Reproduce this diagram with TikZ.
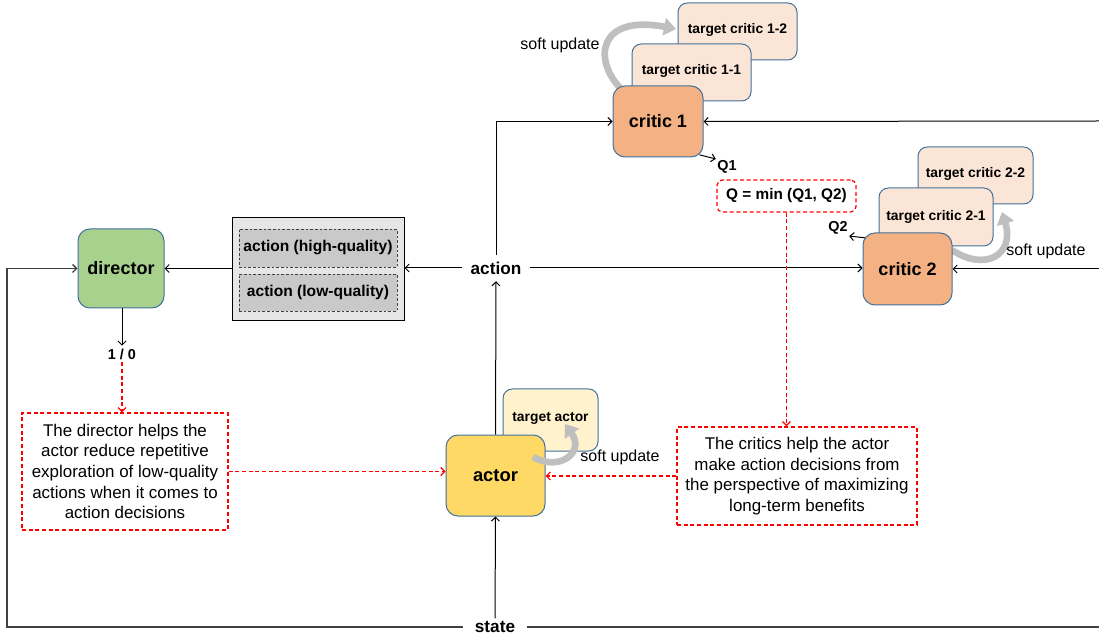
\documentclass[tikz,border=0pt]{standalone}
\usepackage{fontspec}
\setmainfont{Liberation Sans}
\usetikzlibrary{arrows.meta}
\definecolor{bord}{HTML}{41719C}
\definecolor{dirgreen}{HTML}{A9D18E}
\definecolor{actyellow}{HTML}{FFD966}
\definecolor{tactyellow}{HTML}{FFF2CC}
\definecolor{critorange}{HTML}{F4B183}
\definecolor{tcritpeach}{HTML}{FBE5D6}
\definecolor{softgray}{HTML}{BFBFBF}
\definecolor{boxgray}{HTML}{E7E6E6}
\definecolor{innergray}{HTML}{C9C9C9}
\definecolor{linegray}{HTML}{404040}
\begin{document}
\begin{tikzpicture}[x=0.75pt,y=-0.75pt,
  sz/.style 2 args={minimum width=#1*0.75pt, minimum height=#2*0.75pt, inner sep=0pt},
  mainbox/.style={draw=bord, line width=0.75pt, rounded corners=9pt, align=center, font=\fontsize{13.5}{16}\selectfont\bfseries},
  tgtbox/.style={draw=bord, line width=0.75pt, rounded corners=7pt, align=center, font=\fontsize{10.4}{12}\selectfont\bfseries},
  note/.style={draw=red, dash pattern=on 3pt off 2pt, line width=0.9pt, align=center, font=\fontsize{12.7}{15.5}\selectfont},
  lbl/.style={font=\fontsize{12.9}{15}\selectfont\bfseries},
  small/.style={font=\fontsize{10.8}{13}\selectfont\bfseries},
  soft/.style={font=\fontsize{12}{14}\selectfont},
  arr/.style={line width=0.75pt, -{Straight Barb[length=3pt,width=6pt]}},
  redarr/.style={draw=red, line width=0.9pt, dash pattern=on 3pt off 2pt, -{Straight Barb[length=3pt,width=6pt]}},
  softarr/.style={draw=softgray, line width=5pt, -{Triangle[length=9pt,width=13pt]}}
]
\useasboundingbox (0,0) rectangle (1099,634);

% director
\node[mainbox, fill=dirgreen, sz={86}{79}] (director) at (121,268.5) {director};

% action quality box
\node[draw=black, line width=0.75pt, fill=boxgray, sz={172}{103}] (qbox) at (318,269.5) {};
\node[draw=linegray, dash pattern=on 2pt off 1.5pt, line width=0.6pt, fill=innergray, sz={158}{38}, font=\fontsize{11.7}{14}\selectfont\bfseries] (high) at (318,248) {action (high-quality)};
\node[draw=linegray, dash pattern=on 2pt off 1.5pt, line width=0.6pt, fill=innergray, sz={158}{37}, font=\fontsize{11.7}{14}\selectfont\bfseries] (low) at (318,292.5) {action (low-quality)};

% labels
\node[lbl, inner xsep=6pt, inner ysep=5pt] (action) at (496,268) {action};
\node[lbl, inner xsep=9pt, inner ysep=2pt] (state) at (495,627) {state};
\node[small, inner sep=2pt] (onezero) at (122,354) {1 / 0};

% critic 1 group
\node[tgtbox, fill=tcritpeach, sz={119}{57}] (tc12) at (737.5,31.5) {\raisebox{4pt}{target critic 1-2}};
\node[tgtbox, fill=tcritpeach, sz={119}{57}] (tc11) at (691.5,72.5) {\raisebox{4.5pt}{target critic 1-1}};
\draw[softarr] (622,90) .. controls (592,60) and (598,14) .. (676,29);
\node[mainbox, fill=critorange, sz={90}{71}] (critic1) at (658,121.5) {critic 1};
\node[soft] (su1) at (560,45) {soft update};
\node[small, inner sep=1pt] (q1) at (727,167) {Q1};

% critic 2 group
\node[tgtbox, fill=tcritpeach, sz={115}{57}] (tc22) at (975.5,175.5) {\raisebox{4pt}{target critic 2-2}};
\node[tgtbox, fill=tcritpeach, sz={114}{58}] (tc21) at (936,217) {\raisebox{3pt}{target critic 2-1}};
\draw[softarr] (952,250) .. controls (985,272) and (1015,255) .. (1002,212);
\node[mainbox, fill=critorange, sz={89}{72}] (critic2) at (907.5,269) {critic 2};
\node[soft] (su2) at (1046,251) {soft update};
\node[small, inner sep=1pt] (q2) at (838,228) {Q2};

% Q min box
\node[note, rounded corners=4pt, sz={139}{32}, font=\fontsize{11.5}{14}\selectfont\bfseries] (qmin) at (786.5,196) {Q = min (Q1, Q2)};

% actor group
\node[tgtbox, fill=tactyellow, sz={95}{62}] (tactor) at (550.5,420) {\raisebox{4pt}{target actor}};
\node[mainbox, fill=actyellow, sz={99}{81}, font=\fontsize{13.8}{16}\selectfont\bfseries] (actor) at (495.5,475.5) {actor};
\draw[softarr] (533,457) .. controls (560,472) and (585,452) .. (565,424);
\node[soft] (su3) at (620,457) {soft update};

% notes
\node[note, sz={206}{117}] (dnote) at (125,471.5) {The director helps the\\actor reduce repetitive\\exploration of low-quality\\actions when it comes to\\action decisions};
\node[note, sz={240}{98}] (cnote) at (797,476) {The critics help the actor\\make action decisions from\\the perspective of maximizing\\long-term benefits};

% coordinates for free ends
\coordinate (bl) at (7,627);
\coordinate (br) at (1099,627);
\coordinate (r1) at (1099,121);
\coordinate (r2) at (1099,269);

% black connectors
\draw[arr] (qbox.west |- director.east) -- (director.east);
\draw[arr] (action.west) -- (qbox.east |- action.west);
\draw[arr] (action.east) -- (critic2.west |- action.east);
\draw[arr] (action.north) |- (critic1.west);
\draw[arr] (actor.north) -- (action.south);
\draw[arr] (state.north) -- (actor.south);
\draw[line width=1pt, draw=linegray, -{Straight Barb[length=3pt,width=6pt]}] (state.west) -- (bl) |- (director.west);
\draw[line width=1pt, draw=linegray] (state.east) -- (br);
\draw[arr] (r1) -- (critic1.east);
\draw[arr] (r2) -- (critic2.east);
\draw[arr] (director.south -| onezero.north) -- (onezero.north);
\draw[arr] (critic1.south east) ++(-3pt,2pt) coordinate (c1se) -- (q1.north west);
\draw[arr] (critic2.north west) ++(2pt,-4pt) coordinate (c2nw) -- (q2.south east);

% red connectors
\draw[redarr] (onezero.south) -- (dnote.north -| onezero.south);
\draw[redarr] (dnote.east) -- (actor.west |- dnote.east);
\draw[redarr] (cnote.west) -- (actor.east |- cnote.west);
\draw[redarr] (qmin.south) -- (cnote.north -| qmin.south);
\end{tikzpicture}
\end{document}
